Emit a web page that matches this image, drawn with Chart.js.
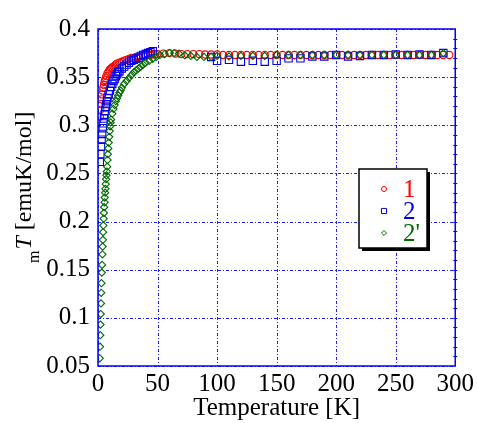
<!DOCTYPE html>
<html>
<head>
<meta charset="utf-8">
<script src="https://cdn.jsdelivr.net/npm/chart.js@4.4.0/dist/chart.umd.min.js"></script>
<style>
  html, body { margin: 0; padding: 0; background: #fff; }
</style>
</head>
<body>
<canvas id="chart" width="477" height="423"></canvas>
<script>
// sample 1 (red circles)
const temp1 = [1.5, 2, 2.5, 3, 3.5, 4, 4.5, 5, 5.5, 6, 6.5, 7, 8, 9, 10, 11, 12, 13, 14, 15, 16,
    18, 20, 22, 24, 26, 28, 30, 32, 34, 36, 38, 40, 42, 44, 46, 48,
    50, 55, 60, 65, 70, 75, 80, 85, 90, 95, 100, 105, 110, 115, 120, 125, 130, 135, 140, 145,
    150, 155, 160, 165, 170, 175, 180, 185, 190, 195, 200, 205, 210, 215, 220, 225, 230, 235,
    240, 245, 250, 255, 260, 265, 270, 275, 280, 285, 290, 295]
const chi1 = [0.309, 0.316, 0.322, 0.327, 0.332, 0.336, 0.339, 0.342, 0.345, 0.347, 0.349, 0.351, 0.354, 0.356, 0.358, 0.359, 0.360, 0.361, 0.362, 0.363, 0.364,
    0.365, 0.366, 0.367, 0.368, 0.369, 0.370, 0.370, 0.371, 0.371, 0.372, 0.372, 0.373, 0.373, 0.373, 0.374, 0.374,
    0.374, 0.3745, 0.375, 0.3745, 0.374, 0.374, 0.374, 0.374, 0.3735, 0.3735, 0.3735, 0.373, 0.373, 0.373, 0.373, 0.373, 0.373, 0.373, 0.373, 0.373,
    0.373, 0.373, 0.373, 0.373, 0.373, 0.373, 0.373, 0.373, 0.373, 0.373, 0.373, 0.373, 0.373, 0.373, 0.373, 0.373, 0.373, 0.373,
    0.373, 0.373, 0.373, 0.373, 0.373, 0.373, 0.373, 0.373, 0.373, 0.373, 0.373, 0.373]

// sample 2 (blue squares)
const temp2 = [1.5, 2, 2.5, 3, 3.5, 4, 4.5, 5, 5.5, 6, 6.5, 7, 7.5, 8, 9, 10, 11, 12, 13, 14, 15, 16, 17, 18,
    20, 22, 24, 26, 28, 30, 32, 34, 36, 38, 40, 42, 44, 46,
    95, 100, 110, 120, 130, 140, 150, 160, 170, 180, 190, 200, 210, 220, 230, 240, 250, 260, 270, 280, 290]
const chi2 = [0.262, 0.270, 0.278, 0.285, 0.291, 0.297, 0.302, 0.307, 0.311, 0.315, 0.319, 0.322, 0.325, 0.328, 0.332, 0.336, 0.340, 0.343, 0.346, 0.348, 0.351, 0.353, 0.355, 0.356,
    0.359, 0.361, 0.363, 0.365, 0.367, 0.368, 0.369, 0.370, 0.372, 0.373, 0.374, 0.375, 0.376, 0.377,
    0.371, 0.367, 0.368, 0.366, 0.367, 0.366, 0.367, 0.3695, 0.3695, 0.3715, 0.3715, 0.373, 0.3715, 0.372, 0.373, 0.373, 0.3735, 0.373, 0.3735, 0.373, 0.375]

// sample 2' (green diamonds)
const temp3 = [1.5, 1.7, 1.9, 2.1, 2.3, 2.5, 2.7, 2.9, 3.2, 3.4, 3.7, 3.9, 4.1, 4.3, 4.5, 4.8, 5.0, 5.2, 5.5, 5.7, 6.0, 6.2, 6.5, 6.8, 7.1, 7.4,
    7.7, 8.0, 8.3, 8.6, 9.0, 9.4, 9.8, 10.2, 10.6, 11, 12, 13, 14, 15, 16, 17, 18, 19, 20,
    22, 24, 26, 28, 30, 32, 34, 36, 38, 40, 43, 46, 49, 52, 56, 60, 64, 68, 73, 78, 83, 89, 95, 100,
    110, 120, 130, 140, 150, 160, 170, 180, 190, 200, 210, 220, 230, 240, 250, 260, 270, 280, 290]
const chi3 = [0.058, 0.070, 0.082, 0.093, 0.104, 0.115, 0.126, 0.136, 0.147, 0.155, 0.166, 0.174, 0.181, 0.189, 0.196, 0.203, 0.209, 0.215, 0.220, 0.225, 0.230, 0.234, 0.239, 0.244, 0.248, 0.252,
    0.257, 0.264, 0.270, 0.276, 0.282, 0.288, 0.294, 0.299, 0.303, 0.306, 0.312, 0.317, 0.321, 0.325, 0.328, 0.331, 0.334, 0.336, 0.339,
    0.343, 0.346, 0.349, 0.352, 0.355, 0.357, 0.359, 0.361, 0.363, 0.365, 0.367, 0.369, 0.371, 0.373, 0.374, 0.375, 0.375, 0.3745, 0.3725, 0.372, 0.371, 0.371, 0.371, 0.372,
    0.3715, 0.372, 0.372, 0.372, 0.373, 0.373, 0.373, 0.373, 0.373, 0.373, 0.373, 0.373, 0.373, 0.373, 0.373, 0.373, 0.373, 0.373, 0.375]

const xTicks = [0, 50, 100, 150, 200, 250, 300]
const yTicks = [0.05, 0.1, 0.15, 0.2, 0.25, 0.3, 0.35, 0.4]

const serif = '"Liberation Serif", "Times New Roman", serif'
const axisBlue = '#0000ff'
const gridBlue = '#2020ff'
const red = '#ff0000'
const blue = '#0000ee'
const green = '#006a00'

const toPoints = (xs, ys) => xs.map((x, i) => ({x: x, y: ys[i]}))

// dotted blue grid, drawn under the markers
const gridPlugin = {
    id: 'dotGrid',
    beforeDatasetsDraw(chart) {
        const {ctx, chartArea: a, scales} = chart
        ctx.save()
        ctx.strokeStyle = gridBlue
        ctx.lineWidth = 1
        ctx.setLineDash([3, 2, 1, 2])
        xTicks.forEach(v => {
            const px = Math.round(scales.x.getPixelForValue(v)) + 0.5
            ctx.beginPath()
            ctx.moveTo(px, a.top)
            ctx.lineTo(px, a.bottom)
            ctx.stroke()
        })
        yTicks.forEach(v => {
            const py = Math.round(scales.y.getPixelForValue(v)) + 0.5
            ctx.beginPath()
            ctx.moveTo(a.left, py)
            ctx.lineTo(a.right, py)
            ctx.stroke()
        })
        ctx.restore()
    }
}

// frame + short ticks on the right edge
const framePlugin = {
    id: 'frame',
    afterDatasetsDraw(chart) {
        const {ctx, chartArea: a, scales} = chart
        ctx.save()
        ctx.strokeStyle = axisBlue
        ctx.lineWidth = 1.5
        ctx.strokeRect(a.left, a.top, a.right - a.left, a.bottom - a.top)
        ctx.lineWidth = 1
        for (let i = 6; i < 40; i++) {
            const py = Math.round(scales.y.getPixelForValue(i / 100)) + 0.5
            ctx.beginPath()
            ctx.moveTo(a.right - 2, py)
            ctx.lineTo(a.right + 2, py)
            ctx.stroke()
        }
        ctx.restore()
    }
}

// legend box inside the plot
const legendPlugin = {
    id: 'boxLegend',
    afterDraw(chart) {
        const ctx = chart.ctx
        const bx = 359, by = 169, bw = 68, bh = 79
        ctx.save()
        ctx.fillStyle = '#000'
        ctx.fillRect(bx + 3, by + 3, bw, bh)
        ctx.fillStyle = '#fff'
        ctx.fillRect(bx, by, bw, bh)
        ctx.strokeStyle = '#000'
        ctx.lineWidth = 1.5
        ctx.strokeRect(bx, by, bw, bh)
        chart.data.datasets.forEach((ds, i) => {
            const cy = by + 20 + i * 22
            ctx.strokeStyle = ds.borderColor
            ctx.fillStyle = 'rgba(0,0,0,0)'
            ctx.lineWidth = 1
            Chart.helpers.drawPoint(ctx, {pointStyle: ds.pointStyle, radius: ds.pointRadius * 0.7, borderWidth: 1}, bx + 25, cy)
            ctx.fillStyle = ds.borderColor
            ctx.font = '25px ' + serif
            ctx.textBaseline = 'middle'
            ctx.textAlign = 'left'
            ctx.fillText(ds.label, bx + 44, cy + 1)
        })
        ctx.restore()
    }
}

// y axis title: subscript m, italic T, unit
const yTitlePlugin = {
    id: 'yTitle',
    afterDraw(chart) {
        const ctx = chart.ctx
        ctx.save()
        ctx.translate(31, 263)
        ctx.rotate(-Math.PI / 2)
        ctx.fillStyle = '#000'
        ctx.textBaseline = 'alphabetic'
        ctx.textAlign = 'left'
        ctx.font = '16px ' + serif
        ctx.fillText('m', 0, 8)
        let x = ctx.measureText('m').width + 1
        ctx.font = 'italic 24px ' + serif
        ctx.fillText('T', x, 0)
        x += ctx.measureText('T').width
        ctx.font = '24px ' + serif
        ctx.fillText(' [emuK/mol]', x, 0)
        ctx.restore()
    }
}

new Chart(document.getElementById('chart'), {
    type: 'scatter',
    data: {
        datasets: [
            {label: '1', data: toPoints(temp1, chi1), pointStyle: 'circle', pointRadius: 3.6,
                borderColor: red, backgroundColor: 'rgba(0,0,0,0)', borderWidth: 1.1, order: 3},
            {label: '2', data: toPoints(temp2, chi2), pointStyle: 'rect', pointRadius: 5.2,
                borderColor: blue, backgroundColor: 'rgba(0,0,0,0)', borderWidth: 1.1, order: 2},
            {label: "2'", data: toPoints(temp3, chi3), pointStyle: 'rectRot', pointRadius: 3.6,
                borderColor: green, backgroundColor: 'rgba(0,0,0,0)', borderWidth: 1.1, order: 1}
        ]
    },
    options: {
        responsive: false,
        animation: false,
        events: [],
        layout: {padding: {top: 29, right: 19, left: 0, bottom: 0}},
        plugins: {
            legend: {display: false},
            tooltip: {enabled: false}
        },
        scales: {
            x: {
                type: 'linear',
                min: 0,
                max: 300,
                afterBuildTicks: s => { s.ticks = xTicks.map(v => ({value: v})) },
                afterFit: s => { s.height = 57 },
                grid: {display: false, drawTicks: false},
                border: {display: false},
                ticks: {
                    color: '#000',
                    padding: 3,
                    maxRotation: 0,
                    font: {family: serif, size: 25}
                },
                title: {
                    display: true,
                    text: 'Temperature [K]',
                    color: '#000',
                    font: {family: serif, size: 25},
                    padding: {top: 0, bottom: 0}
                }
            },
            y: {
                type: 'linear',
                min: 0.05,
                max: 0.4,
                afterBuildTicks: s => { s.ticks = yTicks.map(v => ({value: v})) },
                afterFit: s => { s.width = 98 },
                grid: {display: false, drawTicks: false},
                border: {display: false},
                ticks: {
                    color: '#000',
                    padding: 8,
                    font: {family: serif, size: 25},
                    callback: v => String(Number(v.toFixed(2)))
                }
            }
        }
    },
    plugins: [gridPlugin, framePlugin, legendPlugin, yTitlePlugin]
})
</script>
</body>
</html>
